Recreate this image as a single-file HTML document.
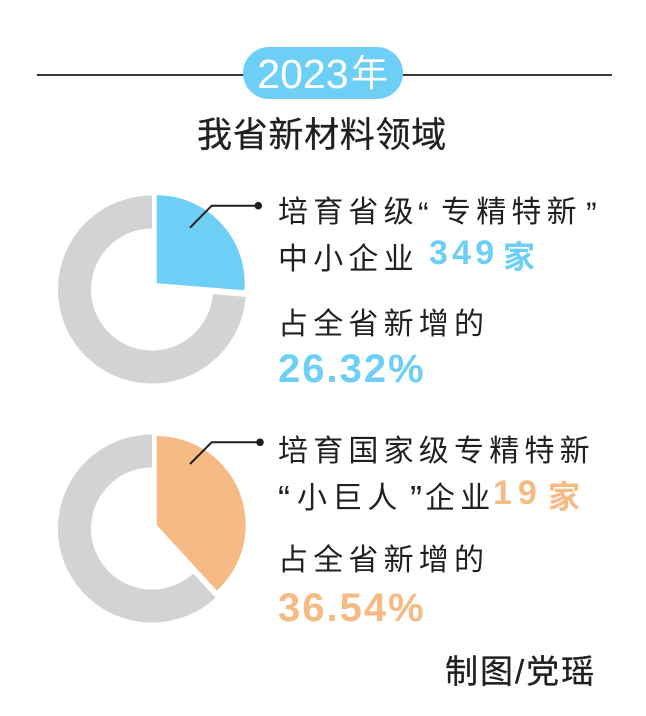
<!DOCTYPE html>
<html>
<head>
<meta charset="utf-8">
<style>
  html, body { margin:0; padding:0; background:#ffffff; }
  body { width:646px; height:716px; position:relative; overflow:hidden; }
  .t { position:absolute; white-space:nowrap; font-family:"Liberation Sans","Noto Sans CJK SC",sans-serif; color:#231f20; }
  .b { font-size:30px; line-height:30px; letter-spacing:5.2px; }
  .q { font-size:32px; line-height:32px; }
  .blue { color:#6dcff6; }
  .orange { color:#f6ba85; }
  .num { font-weight:bold; }
  .med { -webkit-text-stroke:0.3px #231f20; }
</style>
</head>
<body>

<!-- header line and pill -->
<div style="position:absolute;left:37px;top:73.5px;width:575px;height:2.2px;background:#3a3a3a;"></div>
<div style="position:absolute;left:243px;top:47px;width:160px;height:52px;border-radius:26px;background:#6dcff6;"></div>
<div class="t" style="left:257.3px;top:53.6px;font-size:41px;line-height:41px;color:#ffffff;">2023</div>
<div class="t" style="left:351px;top:55.4px;font-size:37px;line-height:37px;color:#ffffff;">年</div>

<!-- title -->
<div class="t med" style="left:197px;top:117.9px;font-size:35px;line-height:35px;letter-spacing:0.7px;">我省新材料领域</div>

<!-- donuts -->
<svg width="646" height="716" style="position:absolute;left:0;top:0;" xmlns="http://www.w3.org/2000/svg">
  <!-- donut 1 -->
  <path d="M 245.71 296.88 A 94 94 0 1 1 152 195.5 L 152 228.5 A 61 61 0 1 0 212.81 294.29 Z" fill="#d1d3d4"/>
  <path d="M 156.7 283.3 L 156.7 195.3 A 88 88 0 0 1 244.43 290.2 Z" fill="#6dcff6"/>
  <polyline points="190,227.7 211.7,205.7 258.3,205.7" fill="none" stroke="#231f20" stroke-width="2"/>
  <circle cx="258.3" cy="205.7" r="3.8" fill="#231f20"/>

  <!-- donut 2 -->
  <path d="M 215.51 597.80 A 94 94 0 1 1 152 434.5 L 152 467.5 A 61 61 0 1 0 193.21 573.47 Z" fill="#d1d3d4"/>
  <path d="M 156.7 525 L 156.7 436 A 89 89 0 0 1 216.83 590.62 Z" fill="#f6ba85"/>
  <polyline points="190,464 211.7,442.3 260,442.3" fill="none" stroke="#231f20" stroke-width="2"/>
  <circle cx="260" cy="442.3" r="3.8" fill="#231f20"/>
</svg>

<!-- block 1 -->
<div class="t b" style="left:278px;top:197.6px;">培育省级</div>
<div class="t q" style="left:418px;top:197.9px;">“</div>
<div class="t b" style="left:441px;top:197.6px;">专精特新</div>
<div class="t q" style="left:586px;top:197.9px;">”</div>

<div class="t b" style="left:278px;top:244.6px;">中小企业</div>
<div class="t num blue" style="left:429px;top:236.3px;font-size:34px;line-height:34px;letter-spacing:4.2px;">349</div>
<div class="t num blue" style="left:503px;top:240.7px;font-size:32px;line-height:32px;">家</div>

<div class="t b" style="left:278px;top:309.6px;">占全省新增的</div>
<div class="t num blue" style="left:278px;top:349.1px;font-size:40px;line-height:40px;letter-spacing:2px;">26.32%</div>

<!-- block 2 -->
<div class="t b" style="left:278px;top:436.6px;">培育国家级专精特新</div>

<div class="t" style="left:278px;top:480.5px;font-size:36px;line-height:36px;">“</div>
<div class="t b" style="left:297px;top:483.6px;">小巨人</div>
<div class="t" style="left:410px;top:480.5px;font-size:36px;line-height:36px;">”</div>
<div class="t b" style="left:425px;top:483.6px;">企业</div>
<div class="t num orange" style="left:493px;top:476.3px;font-size:34px;line-height:34px;letter-spacing:6px;">19</div>
<div class="t num orange" style="left:548px;top:481.4px;font-size:32px;line-height:32px;">家</div>

<div class="t b" style="left:278px;top:545.6px;">占全省新增的</div>
<div class="t num orange" style="left:278px;top:588.1px;font-size:40px;line-height:40px;letter-spacing:2px;">36.54%</div>

<!-- credit -->
<div class="t med" style="left:445px;top:654.8px;font-size:33px;line-height:33px;letter-spacing:2px;">制图/党瑶</div>

</body>
</html>
